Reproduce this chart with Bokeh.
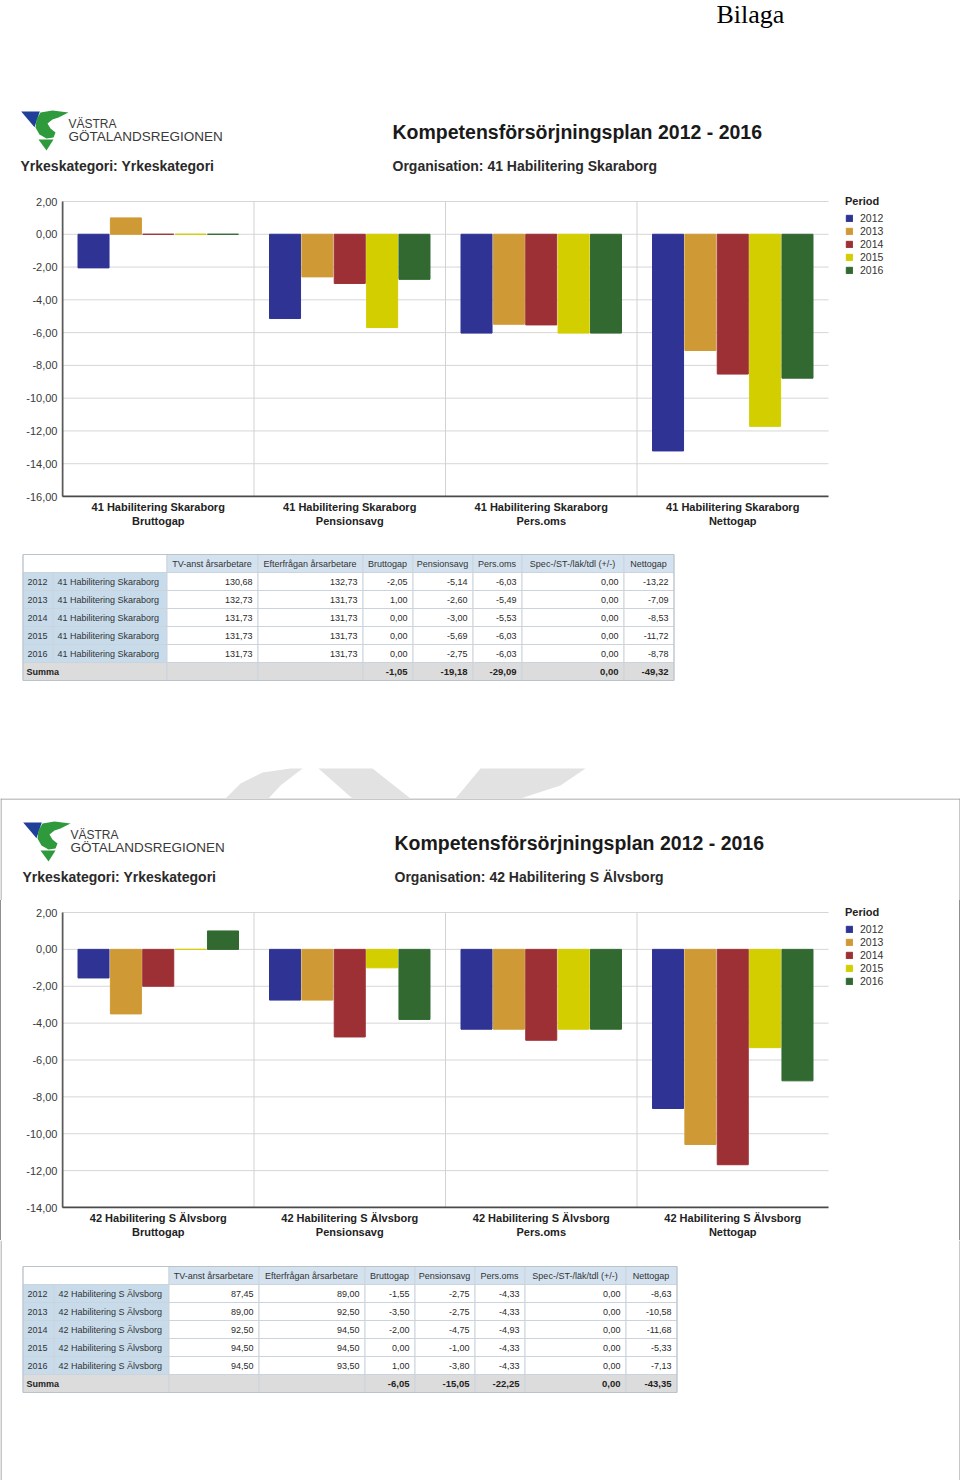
from bokeh.plotting import figure
from bokeh.layouts import column, row
from bokeh.models import (Range1d, FixedTicker, ColumnDataSource, Spacer, Legend,
                          LegendItem)
from bokeh.embed import file_html
from bokeh.resources import INLINE
from bokeh.core.properties import value

# ---------------- data ----------------
YEARS = ["2012", "2013", "2014", "2015", "2016"]
PERIOD_COLORS = ["#2f3394", "#cf9a35", "#9c3034", "#d3ce00", "#316931"]
MEASURES = ["Bruttogap", "Pensionsavg", "Pers.oms", "Nettogap"]
TABLE_HEADERS = ["TV-anst årsarbetare", "Efterfrågan årsarbetare", "Bruttogap",
                 "Pensionsavg", "Pers.oms", "Spec-/ST-/läk/tdl (+/-)", "Nettogap"]
TITLE = "Kompetensförsörjningsplan 2012 - 2016"
YRKE = "Yrkeskategori: Yrkeskategori"

ORG_1 = "41 Habilitering Skaraborg"
TV_ANST_1 = [130.68, 132.73, 131.73, 131.73, 131.73]
EFTERFRAGAN_1 = [132.73, 131.73, 131.73, 131.73, 131.73]
BRUTTOGAP_1 = [-2.05, 1.00, 0.00, 0.00, 0.00]
PENSIONSAVG_1 = [-5.14, -2.60, -3.00, -5.69, -2.75]
PERSOMS_1 = [-6.03, -5.49, -5.53, -6.03, -6.03]
SPEC_1 = [0.00, 0.00, 0.00, 0.00, 0.00]
NETTOGAP_1 = [-13.22, -7.09, -8.53, -11.72, -8.78]
SUMMA_1 = [-1.05, -19.18, -29.09, 0.00, -49.32]
YTICKS_1 = [2, 0, -2, -4, -6, -8, -10, -12, -14, -16]
YTICK_LABELS_1 = ["2,00", "0,00", "-2,00", "-4,00", "-6,00", "-8,00",
                  "-10,00", "-12,00", "-14,00", "-16,00"]

ORG_2 = "42 Habilitering S Älvsborg"
TV_ANST_2 = [87.45, 89.00, 92.50, 94.50, 94.50]
EFTERFRAGAN_2 = [89.00, 92.50, 94.50, 94.50, 93.50]
BRUTTOGAP_2 = [-1.55, -3.50, -2.00, 0.00, 1.00]
PENSIONSAVG_2 = [-2.75, -2.75, -4.75, -1.00, -3.80]
PERSOMS_2 = [-4.33, -4.33, -4.93, -4.33, -4.33]
SPEC_2 = [0.00, 0.00, 0.00, 0.00, 0.00]
NETTOGAP_2 = [-8.63, -10.58, -11.68, -5.33, -7.13]
SUMMA_2 = [-6.05, -15.05, -22.25, 0.00, -43.35]
YTICKS_2 = [2, 0, -2, -4, -6, -8, -10, -12, -14]
YTICK_LABELS_2 = ["2,00", "0,00", "-2,00", "-4,00", "-6,00", "-8,00",
                  "-10,00", "-12,00", "-14,00"]

# ---------------- style ----------------
PAGE_W = 960
FONT = "Liberation Sans"
HEAD_BG = "#d4e2ef"
LABEL_BG = "#c8dbeb"
SUM_BG = "#dcdcdc"
CELL_LINE = "#cbd4dc"
FRAME_GRAY = "#8f8f8f"
WATERMARK = "#e2e2e2"
ROW_H = 18
SLOT = 0.169
BAR_W = 0.162
AXIS_X0, AXIS_X1 = 62, 828      # pixel span of the category axis


def fmt(v):
    return f"{v:.2f}".replace(".", ",")


def pixel_fig(w, h):
    p = figure(width=w, height=h, x_range=Range1d(0, w), y_range=Range1d(h, 0),
               output_backend="svg", toolbar_location=None, min_border=0,
               x_axis_type=None, y_axis_type=None)
    p.outline_line_color = None
    p.background_fill_color = "white"
    p.border_fill_color = "white"
    return p


def put_text(p, xs, ys, texts, size, font=FONT, bold=False, color="#333333",
             align="left", baseline="middle"):
    p.text(x=xs, y=ys, text=texts, text_font=value(font), text_font_size=size,
           text_font_style="bold" if bold else "normal", text_color=color,
           text_align=align, text_baseline=baseline)


def side_borders(p, h, top_line=False):
    p.segment(x0=[0.5, PAGE_W - 0.5], y0=[0, 0], x1=[0.5, PAGE_W - 0.5], y1=[h, h],
              line_color=FRAME_GRAY, line_width=1)
    if top_line:
        p.segment(x0=[0], y0=[0.5], x1=[PAGE_W], y1=[0.5], line_color=FRAME_GRAY,
                  line_width=1)


def draw_logo(p, dx, dy):
    blue = [(20.7, 11), (39.3, 11), (34, 26.7)]
    swoosh = [(40, 12), (52, 10), (68, 12), (58, 17), (52, 19), (47, 23), (50, 28),
              (55, 32), (53, 37), (46, 38), (39, 34), (35, 27), (36, 19)]
    tri = [(38, 39), (53, 39), (46, 50)]
    shapes = [blue, swoosh, tri]
    p.patches(xs=[[a + dx for a, b in s] for s in shapes],
              ys=[[b + dy for a, b in s] for s in shapes],
              fill_color=["#1f3f98", "#2f9a3c", "#2f9a3c"], line_color=None)


def header_fig(h, dx, dy, org, framed):
    p = pixel_fig(PAGE_W, h)
    if framed:
        side_borders(p, h, top_line=True)
    draw_logo(p, dx, dy)
    put_text(p, [68 + dx], [23 + dy], ["VÄSTRA"], "12px", color="#3a3a3a")
    put_text(p, [68 + dx], [36 + dy], ["GÖTALANDSREGIONEN"], "13.5px", color="#3a3a3a")
    put_text(p, [20 + dx], [65 + dy], [YRKE], "14px", bold=True, color="#2a2a2a")
    put_text(p, [392 + dx], [31 + dy], [TITLE], "19.5px", bold=True, color="#1a1a1a")
    put_text(p, [392 + dx], [65 + dy], ["Organisation: " + org], "14px", bold=True,
             color="#2a2a2a")
    return p


def bar_chart(org, series, yticks, ylabels, fig_left, fig_w, fig_top, y_top_px,
              y_bot_px):
    """Axis spans: category -0.5..3.5 over AXIS_X0..AXIS_X1 px, value range over
    y_top_px..y_bot_px px.  The frame extends to the right edge so the legend fits."""
    n = len(MEASURES)
    ppx = (AXIS_X1 - AXIS_X0) / n
    ymin, ymax = min(yticks), max(yticks)
    ppy = (y_bot_px - y_top_px) / (ymax - ymin)
    frame_l, frame_r = AXIS_X0 - 1, fig_left + fig_w
    frame_t, frame_b = fig_top, y_bot_px + 1
    p = figure(width=fig_w, height=340,
               x_range=Range1d(-0.5 + (frame_l - AXIS_X0) / ppx,
                               -0.5 + (frame_r - AXIS_X0) / ppx),
               y_range=Range1d(ymin - (frame_b - y_bot_px) / ppy,
                               ymax + (y_top_px - frame_t) / ppy),
               output_backend="svg", toolbar_location=None,
               min_border_left=frame_l - fig_left, min_border_right=0,
               min_border_top=0, min_border_bottom=fig_top + 340 - frame_b)
    p.outline_line_color = None
    p.xgrid.visible = False
    p.ygrid.visible = False
    # grid (drawn as glyphs so it stops at the plot edge)
    p.segment(x0=[-0.5] * len(yticks), y0=yticks, x1=[n - 0.5] * len(yticks),
              y1=yticks, line_color="#d6d6d6", line_width=1, level="underlay")
    seps = [i + 0.5 for i in range(n - 1)]
    p.segment(x0=seps, y0=[ymin] * len(seps), x1=seps, y1=[ymax] * len(seps),
              line_color="#d2d2d2", line_width=1, level="underlay")
    renderers = []
    for j, yr in enumerate(YEARS):
        xs = [g + (j - 2) * SLOT for g in range(n)]
        tops = [series[m][j] for m in MEASURES]
        src = ColumnDataSource(dict(x=xs, top=tops))
        r = p.vbar(x="x", top="top", bottom=0, width=BAR_W, source=src,
                   fill_color=PERIOD_COLORS[j], line_color=PERIOD_COLORS[j],
                   line_width=1)
        renderers.append(r)
    # axis lines
    p.segment(x0=[-0.5], y0=[ymin], x1=[-0.5], y1=[ymax], line_color="#5a5a5a",
              line_width=2)
    p.segment(x0=[-0.5], y0=[ymin], x1=[n - 0.5], y1=[ymin], line_color="#4a4a4a",
              line_width=2)

    p.xaxis.ticker = FixedTicker(ticks=list(range(n)))
    p.xaxis.major_label_overrides = {i: f"{org}\n{m}" for i, m in enumerate(MEASURES)}
    p.yaxis.ticker = FixedTicker(ticks=yticks)
    p.yaxis.major_label_overrides = dict(zip(yticks, ylabels))
    for ax in (p.xaxis, p.yaxis):
        ax.axis_line_color = None
        ax.major_tick_line_color = None
        ax.minor_tick_line_color = None
        ax.major_tick_out = 0
        ax.major_tick_in = 0
        ax.major_label_text_font = FONT
    p.yaxis.major_label_text_font_size = "11px"
    p.yaxis.major_label_text_color = "#3a3a3a"
    p.yaxis.major_label_standoff = 4
    p.xaxis.major_label_text_font_size = "11px"
    p.xaxis.major_label_text_font_style = "bold"
    p.xaxis.major_label_text_color = "#222222"
    p.xaxis.major_label_standoff = 3

    legend = Legend(
        items=[LegendItem(label=yr, renderers=[r]) for yr, r in zip(YEARS, renderers)],
        title="Period", location=(845 - frame_l, 221), padding=0, margin=0, spacing=1,
        glyph_width=8, glyph_height=8, label_height=10, label_standoff=7,
        title_standoff=5, border_line_color=None, background_fill_alpha=0,
        label_text_font=FONT, label_text_font_size="10.5px",
        label_text_color="#333333", title_text_font=FONT,
        title_text_font_size="11px", title_text_font_style="bold",
        title_text_color="#222222")
    p.add_layout(legend)
    return p


def table_fig(h, top, edges, org, cols, sums, framed):
    p = pixel_fig(PAGE_W, h)
    if framed:
        side_borders(p, h)
    L, R, T, B, C = [], [], [], [], []

    def cell(k0, k1, r, color):
        L.append(edges[k0] + 0.5)
        R.append(edges[k1] + 0.5)
        T.append(top + r * ROW_H + 0.5)
        B.append(top + (r + 1) * ROW_H + 0.5)
        C.append(color)

    cell(0, 2, 0, "white")
    for k in range(2, 9):
        cell(k, k + 1, 0, HEAD_BG)
    for r in range(1, 6):
        for k in range(9):
            cell(k, k + 1, r, LABEL_BG if k < 2 else "white")
    cell(0, 2, 6, SUM_BG)
    for k in range(2, 9):
        cell(k, k + 1, 6, SUM_BG)
    p.quad(left=L, right=R, top=T, bottom=B, fill_color=C, line_color=CELL_LINE,
           line_width=1)
    p.quad(left=[edges[0] + 0.5], right=[edges[-1] + 0.5], top=[top + 0.5],
           bottom=[top + 7 * ROW_H + 0.5], fill_color=None, line_color="#b9c3cc")

    put_text(p, [(edges[k] + edges[k + 1]) / 2 for k in range(2, 9)],
             [top + ROW_H / 2 + 0.5] * 7, TABLE_HEADERS, "9px", align="center",
             color="#333333")
    ys = [top + ROW_H * (r + 1.5) + 0.5 for r in range(len(YEARS))]
    put_text(p, [edges[0] + 5] * 5, ys, YEARS, "9px", color="#333333")
    put_text(p, [edges[1] + 5] * 5, ys, [org] * 5, "9px", color="#333333")
    for c, col in enumerate(cols):
        put_text(p, [edges[c + 3] - 5] * 5, ys, [fmt(v) for v in col], "9px",
                 align="right", color="#2a2a2a")
    ysum = top + ROW_H * 6.5 + 0.5
    put_text(p, [edges[0] + 4], [ysum], ["Summa"], "9px", bold=True, color="#222222")
    put_text(p, [edges[k + 1] - 5 for k in range(4, 9)], [ysum] * 5,
             [fmt(v) for v in sums], "9.5px", bold=True, align="right", color="#222222")
    return p


# ---------------- page ----------------
top_fig = pixel_fig(PAGE_W, 100)
put_text(top_fig, [716], [14], ["Bilaga"], "26px", font="Liberation Serif",
         color="#000000")

series_1 = {"Bruttogap": BRUTTOGAP_1, "Pensionsavg": PENSIONSAVG_1,
            "Pers.oms": PERSOMS_1, "Nettogap": NETTOGAP_1}
series_2 = {"Bruttogap": BRUTTOGAP_2, "Pensionsavg": PENSIONSAVG_2,
            "Pers.oms": PERSOMS_2, "Nettogap": NETTOGAP_2}

head1 = header_fig(90, 0, 0, ORG_1, False)
bar1 = bar_chart(ORG_1, series_1, YTICKS_1, YTICK_LABELS_1, 0, PAGE_W, 190, 201, 496)
tab1 = table_fig(170, 23.5, [22, 52, 166, 257, 362, 412, 472, 521, 623, 673], ORG_1,
                 [TV_ANST_1, EFTERFRAGAN_1, BRUTTOGAP_1, PENSIONSAVG_1, PERSOMS_1,
                  SPEC_1, NETTOGAP_1], SUMMA_1, False)

gap = pixel_fig(PAGE_W, 98)
wm = [[(225, 98), (240, 83), (262, 72), (290, 68), (302, 68), (280, 85), (268, 98)],
      [(318, 68), (372, 68), (410, 98), (352, 98)],
      [(480, 68), (585, 68), (560, 85), (520, 98), (455, 98)]]
gap.patches(xs=[[a for a, b in s] for s in wm], ys=[[b for a, b in s] for s in wm],
            fill_color=WATERMARK, line_color=None)

head2 = header_fig(102, 2, 13, ORG_2, True)
edge_l = Spacer(width=1, height=340, styles={"background-color": FRAME_GRAY})
edge_r = Spacer(width=1, height=340, styles={"background-color": FRAME_GRAY})
bar2 = bar_chart(ORG_2, series_2, YTICKS_2, YTICK_LABELS_2, 1, PAGE_W - 2, 900, 912,
                 1207)
tab2 = table_fig(240, 25.5, [22, 53, 168, 258, 364, 414, 474, 524, 625, 676], ORG_2,
                 [TV_ANST_2, EFTERFRAGAN_2, BRUTTOGAP_2, PENSIONSAVG_2, PERSOMS_2,
                  SPEC_2, NETTOGAP_2], SUMMA_2, True)

page = column(top_fig, head1, row(bar1), tab1, gap, head2,
              row(edge_l, bar2, edge_r), tab2)

open("out.html", "w").write(file_html(page, INLINE))
